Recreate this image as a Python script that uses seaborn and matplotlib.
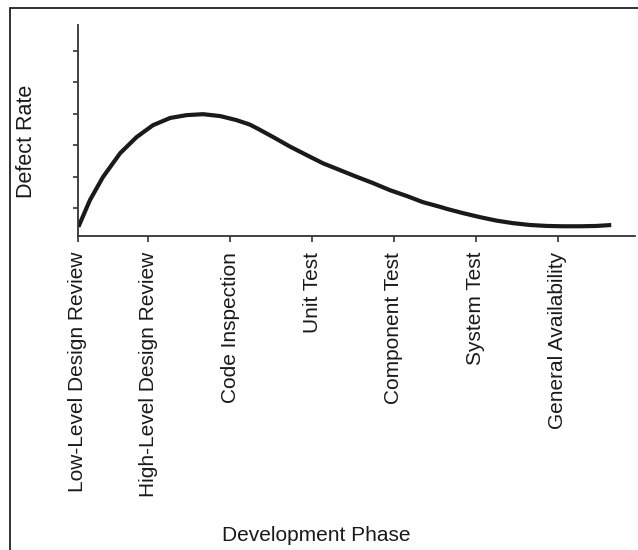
import numpy as np
import pandas as pd
import matplotlib
matplotlib.use("Agg")
import matplotlib.pyplot as plt
from matplotlib.patches import Rectangle
import seaborn as sns

# 개발 단계 (x축 눈금)
phases = ['Low-Level Design Review', 'High-Level Design Review', 'Code Inspection',
          'Unit Test', 'Component Test', 'System Test', 'General Availability']
phase_pos = [0, 0.86, 1.86, 2.86, 3.86, 4.86, 5.86]

# 곡선 위 점
curve_x = [0.01, 0.15, 0.31, 0.52, 0.72, 0.92, 1.13, 1.33, 1.53, 1.74, 1.94, 2.10,
           2.19, 2.38, 2.59, 2.80, 2.99, 3.20, 3.41, 3.60, 3.81, 4.02, 4.21, 4.42,
           4.51, 4.70, 4.91, 5.11, 5.31, 5.52, 5.73, 5.92, 6.13, 6.33, 6.51]
curve_y = [0.40, 1.25, 1.99, 2.75, 3.26, 3.64, 3.87, 3.96, 3.99, 3.93, 3.80, 3.66,
           3.54, 3.27, 2.96, 2.68, 2.43, 2.21, 1.99, 1.80, 1.57, 1.38, 1.19, 1.04,
           0.97, 0.84, 0.71, 0.60, 0.52, 0.46, 0.43, 0.42, 0.42, 0.43, 0.46]
y_ticks = [1, 2, 3, 4, 5, 6]

df = pd.DataFrame({'phase': curve_x, 'rate': curve_y})

sns.set_style('ticks')
plt.rcParams['font.family'] = ['Liberation Sans', 'DejaVu Sans']

fig = plt.figure(figsize=(6.38, 5.5), dpi=100)
ax = fig.add_axes([0.1216, 0.5709, 0.8737, 0.3836])

sns.lineplot(data=df, x='phase', y='rate', ax=ax, color='#1a1a1a', linewidth=3.0,
             solid_capstyle='butt', solid_joinstyle='round')

ax.set_xlim(0, 6.80)
ax.set_ylim(0.11, 6.83)
ax.set_xticks(phase_pos)
ax.set_xticklabels(phases, rotation=90, fontsize=15, color='#1a1a1a')
ax.set_yticks(y_ticks)
ax.set_yticklabels([])
ax.tick_params(axis='x', direction='out', length=4.5, width=1.2, pad=7, color='#333333')
ax.tick_params(axis='y', direction='out', length=3.6, width=1.2, color='#333333')

sns.despine(ax=ax)
for s in ['left', 'bottom']:
    ax.spines[s].set_linewidth(1.3)
    ax.spines[s].set_color('#333333')

ax.set_xlabel('Development Phase', fontsize=15, color='#1a1a1a')
ax.xaxis.set_label_coords(0.428, -1.374)
ax.set_ylabel('Defect Rate', fontsize=15.5, color='#1a1a1a')
ax.yaxis.set_label_coords(-0.0734, 0.450)

# 바깥 테두리 (왼쪽, 위쪽만 보임)
fig.add_artist(Rectangle((9.5 / 638, -0.1), 1.2, 1.1 - 8 / 550, transform=fig.transFigure,
                         fill=False, edgecolor='#222222', linewidth=1.3))

fig.savefig('out.png', dpi=100)
